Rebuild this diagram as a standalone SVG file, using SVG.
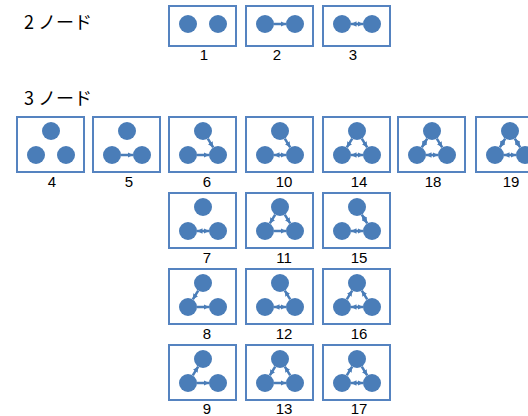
<svg xmlns="http://www.w3.org/2000/svg" width="528" height="416" viewBox="0 0 528 416">
<style>
.bx{fill:#fff;stroke:#5583c0;stroke-width:2}
.nd{fill:#4a7db8}
.a{fill:none;stroke:#4a7db8;stroke-width:2.5;marker-end:url(#ah)}
.b{fill:none;stroke:#4a7db8;stroke-width:2.5;marker-start:url(#ah);marker-end:url(#ah)}
.lb{font-family:"Liberation Sans",Arial,sans-serif;font-size:15px;fill:#000;text-anchor:middle}
.hd{font-family:"Noto Sans CJK JP","Noto Sans",sans-serif;font-size:18px;fill:#000}
</style>
<defs>
<marker id="ah" viewBox="0 0 6 6" refX="6" refY="3" markerWidth="5.5" markerHeight="5.5" markerUnits="userSpaceOnUse" orient="auto-start-reverse">
<path d="M0,0 L6,3 L0,6 z" fill="#4a7db8"/>
</marker>
<g id="two"><rect class="bx" x="0" y="0" width="67" height="40"/><circle class="nd" cx="19" cy="18" r="9"/><circle class="nd" cx="49" cy="18" r="9"/></g>
<g id="three"><rect class="bx" x="0" y="0" width="67" height="55"/><circle class="nd" cx="34" cy="14" r="9"/><circle class="nd" cx="19" cy="38" r="9"/><circle class="nd" cx="49" cy="38" r="9"/></g>
</defs>
<text class="hd" x="24" y="29">2 ノード</text>
<text class="hd" x="24" y="105">3 ノード</text>
<g id="n1"><use href="#two" x="169" y="6"/><text class="lb" x="204" y="60">1</text></g>
<g id="n2"><use href="#two" x="246" y="6"/><text class="lb" x="277" y="60">2</text></g>
<g id="n3"><use href="#two" x="323" y="6"/><text class="lb" x="353" y="60">3</text></g>
<g id="n4"><use href="#three" x="17" y="117"/><text class="lb" x="52" y="187">4</text></g>
<g id="n5"><use href="#three" x="93" y="117"/><text class="lb" x="129" y="187">5</text></g>
<g id="n6"><use href="#three" x="169" y="117"/><text class="lb" x="207" y="187">6</text></g>
<g id="n7"><use href="#three" x="169" y="193"/><text class="lb" x="207" y="263">7</text></g>
<g id="n8"><use href="#three" x="169" y="269"/><text class="lb" x="207" y="339">8</text></g>
<g id="n9"><use href="#three" x="169" y="345"/><text class="lb" x="207" y="414">9</text></g>
<g id="n10"><use href="#three" x="246" y="117"/><text class="lb" x="284" y="187">10</text></g>
<g id="n11"><use href="#three" x="246" y="193"/><text class="lb" x="284" y="263">11</text></g>
<g id="n12"><use href="#three" x="246" y="269"/><text class="lb" x="284" y="339">12</text></g>
<g id="n13"><use href="#three" x="246" y="345"/><text class="lb" x="284" y="414">13</text></g>
<g id="n14"><use href="#three" x="323" y="117"/><text class="lb" x="359" y="187">14</text></g>
<g id="n15"><use href="#three" x="323" y="193"/><text class="lb" x="359" y="263">15</text></g>
<g id="n16"><use href="#three" x="323" y="269"/><text class="lb" x="359" y="339">16</text></g>
<g id="n17"><use href="#three" x="323" y="345"/><text class="lb" x="359" y="414">17</text></g>
<g id="n18"><use href="#three" x="398" y="117"/><text class="lb" x="433" y="187">18</text></g>
<g id="n19"><use href="#three" x="476" y="117"/><text class="lb" x="511" y="187">19</text></g>
<g id="connectors">
<g transform="translate(246,6)"><path class="a" d="M28,18 H40"/></g>
<g transform="translate(323,6)"><path class="b" d="M28,18 H40"/></g>
<g transform="translate(93,117)"><path class="a" d="M28,38 H40"/></g>
<g transform="translate(169,117)"><path class="a" d="M28,38 H40"/><path class="a" d="M38.8,21.6 L44.2,30.4"/></g>
<g transform="translate(169,193)"><path class="b" d="M28,38 H40"/></g>
<g transform="translate(169,269)"><path class="a" d="M29.2,21.6 L23.8,30.4"/><path class="a" d="M28,38 H40"/></g>
<g transform="translate(169,345)"><path class="a" d="M23.8,30.4 L29.2,21.6"/><path class="a" d="M28,38 H40"/></g>
<g transform="translate(246,117)"><path class="b" d="M28,38 H40"/><path class="a" d="M38.8,21.6 L44.2,30.4"/></g>
<g transform="translate(246,193)"><path class="a" d="M29.2,21.6 L23.8,30.4"/><path class="a" d="M38.8,21.6 L44.2,30.4"/><path class="a" d="M28,38 H40"/></g>
<g transform="translate(246,269)"><path class="b" d="M28,38 H40"/><path class="a" d="M44.2,30.4 L38.8,21.6"/></g>
<g transform="translate(246,345)"><path class="a" d="M29.2,21.6 L23.8,30.4"/><path class="a" d="M28,38 H40"/><path class="a" d="M44.2,30.4 L38.8,21.6"/></g>
<g transform="translate(323,117)"><path class="a" d="M29.2,21.6 L23.8,30.4"/><path class="a" d="M38.8,21.6 L44.2,30.4"/><path class="b" d="M28,38 H40"/></g>
<g transform="translate(323,193)"><path class="b" d="M38.8,21.6 L44.2,30.4"/><path class="b" d="M28,38 H40"/></g>
<g transform="translate(323,269)"><path class="a" d="M23.8,30.4 L29.2,21.6"/><path class="a" d="M44.2,30.4 L38.8,21.6"/><path class="b" d="M28,38 H40"/></g>
<g transform="translate(323,345)"><path class="a" d="M23.8,30.4 L29.2,21.6"/><path class="a" d="M38.8,21.6 L44.2,30.4"/><path class="b" d="M28,38 H40"/></g>
<g transform="translate(398,117)"><path class="b" d="M29.2,21.6 L23.8,30.4"/><path class="b" d="M28,38 H40"/><path class="a" d="M38.8,21.6 L44.2,30.4"/></g>
<g transform="translate(476,117)"><path class="b" d="M29.2,21.6 L23.8,30.4"/><path class="b" d="M38.8,21.6 L44.2,30.4"/><path class="b" d="M28,38 H40"/></g>
</g>
</svg>
